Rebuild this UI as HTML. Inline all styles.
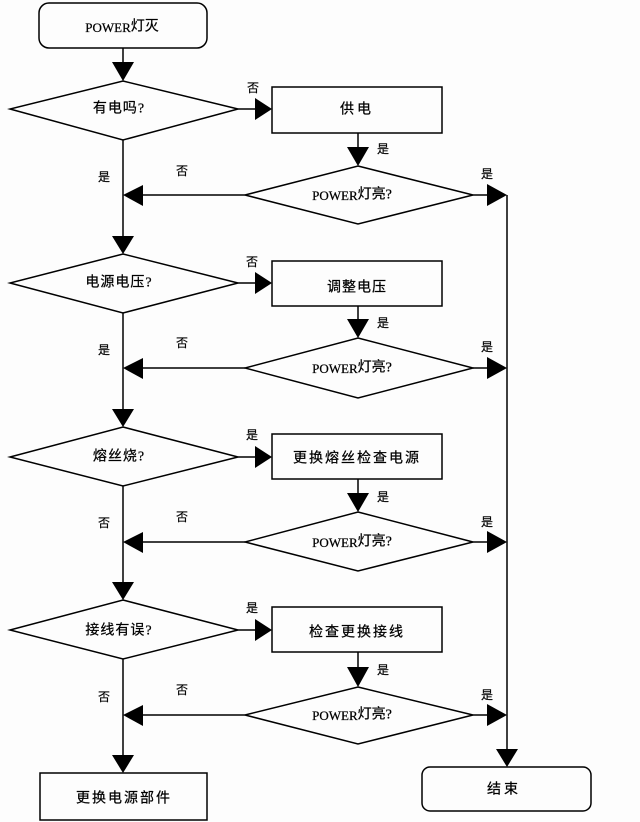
<!DOCTYPE html>
<html><head><meta charset="utf-8"><style>
html,body{margin:0;padding:0;background:#fff;}
svg{display:block;}
text{font-family:"Liberation Serif","Noto Sans CJK SC",serif;fill:#000;}
.c{font-family:"Liberation Serif","Noto Sans CJK SC",sans-serif;font-size:14px;stroke:#000;stroke-width:0.25;}
.l{font-family:"Noto Sans CJK SC",sans-serif;font-size:12px;stroke:#000;stroke-width:0.2;}
</style></head><body>
<svg width="640" height="822" viewBox="0 0 640 822" xmlns="http://www.w3.org/2000/svg">
<rect width="640" height="822" fill="#fdfdfd"/>
<g stroke="#000" stroke-width="1.5" fill="none">
  <rect x="39" y="3" width="168" height="45" rx="10" ry="10"/>
  <line x1="123" y1="48" x2="123" y2="66"/>
  <polygon points="123,81 238,109 123,140 10,109"/>
  <line x1="238" y1="109" x2="258" y2="109"/>
  <rect x="272" y="87" width="170" height="46"/>
  <line x1="358" y1="133" x2="358" y2="150"/>
  <polygon points="358,166 473,195 358,224 245,195"/>
  <line x1="473" y1="195" x2="490" y2="195"/>
  <line x1="245" y1="195" x2="140" y2="195"/>
  <line x1="123" y1="140" x2="123" y2="240"/>
  <polygon points="123,254 238,283 123,313 10,283"/>
  <line x1="238" y1="283" x2="258" y2="283"/>
  <rect x="272" y="261" width="170" height="45"/>
  <line x1="358" y1="306" x2="358" y2="322"/>
  <polygon points="358,338 473,368 358,398 245,368"/>
  <line x1="473" y1="368" x2="490" y2="368"/>
  <line x1="245" y1="368" x2="140" y2="368"/>
  <line x1="123" y1="313" x2="123" y2="412"/>
  <polygon points="123,427 238,457 123,486 10,457"/>
  <line x1="238" y1="457" x2="258" y2="457"/>
  <rect x="272" y="434" width="170" height="45"/>
  <line x1="358" y1="479" x2="358" y2="496"/>
  <polygon points="358,512 473,542 358,571 245,542"/>
  <line x1="473" y1="542" x2="490" y2="542"/>
  <line x1="245" y1="542" x2="140" y2="542"/>
  <line x1="123" y1="486" x2="123" y2="585"/>
  <polygon points="123,600 238,630 123,659 10,630"/>
  <line x1="238" y1="630" x2="258" y2="630"/>
  <rect x="272" y="607" width="170" height="45"/>
  <line x1="358" y1="652" x2="358" y2="670"/>
  <polygon points="358,687 473,715 358,744 245,715"/>
  <line x1="473" y1="715" x2="490" y2="715"/>
  <line x1="245" y1="715" x2="140" y2="715"/>
  <line x1="123" y1="659" x2="123" y2="758"/>
  <rect x="40" y="773" width="167" height="47"/>
  <line x1="507" y1="195" x2="507" y2="752"/>
  <rect x="422" y="767" width="169" height="44" rx="8" ry="8"/>
</g>
<g fill="#000">
  <polygon points="112,62 134,62 123,81"/>
  <polygon points="112,236 134,236 123,254"/>
  <polygon points="112,409 134,409 123,427"/>
  <polygon points="112,582 134,582 123,600"/>
  <polygon points="112,755 134,755 123,773"/>
  <polygon points="255,98 255,120 272,109"/>
  <polygon points="255,272 255,294 272,283"/>
  <polygon points="255,446 255,468 272,457"/>
  <polygon points="255,619 255,641 272,630"/>
  <polygon points="347,147 369,147 358,166"/>
  <polygon points="347,319 369,319 358,338"/>
  <polygon points="347,493 369,493 358,512"/>
  <polygon points="347,667 369,667 358,687"/>
  <polygon points="487,184 487,206 507,195"/>
  <polygon points="487,357 487,379 507,368"/>
  <polygon points="487,531 487,553 507,542"/>
  <polygon points="487,704 487,726 507,715"/>
  <polygon points="143,185 143,206 123,195"/>
  <polygon points="143,358 143,379 123,368"/>
  <polygon points="143,532 143,553 123,542"/>
  <polygon points="143,705 143,726 123,715"/>
  <polygon points="496,749 518,749 507,767"/>
</g>
<g class="c" text-anchor="middle" dominant-baseline="central">
  <text x="122" y="27"><tspan font-size="13">POWER</tspan>灯灭</text>
  <text x="119" y="109" letter-spacing="1">有电吗?</text>
  <text x="357" y="110" letter-spacing="3">供电</text>
  <text x="352" y="195"><tspan font-size="13">POWER</tspan>灯亮?</text>
  <text x="119" y="283" letter-spacing="1">电源电压?</text>
  <text x="357" y="288" letter-spacing="1">调整电压</text>
  <text x="352" y="368"><tspan font-size="13">POWER</tspan>灯亮?</text>
  <text x="119" y="457" letter-spacing="1">熔丝烧?</text>
  <text x="357" y="459" letter-spacing="2">更换熔丝检查电源</text>
  <text x="352" y="542"><tspan font-size="13">POWER</tspan>灯亮?</text>
  <text x="119" y="631" letter-spacing="1">接线有误?</text>
  <text x="357" y="633" letter-spacing="2">检查更换接线</text>
  <text x="352" y="715"><tspan font-size="13">POWER</tspan>灯亮?</text>
  <text x="124" y="799" letter-spacing="2">更换电源部件</text>
  <text x="504" y="790" letter-spacing="3">结束</text>
</g>
<g class="l" text-anchor="middle" dominant-baseline="central">
  <text x="253" y="88">否</text>
  <text x="252" y="262">否</text>
  <text x="252" y="435">是</text>
  <text x="252" y="608">是</text>
  <text x="383" y="149">是</text>
  <text x="383" y="323">是</text>
  <text x="383" y="497">是</text>
  <text x="383" y="670">是</text>
  <text x="487" y="174">是</text>
  <text x="487" y="347">是</text>
  <text x="487" y="522">是</text>
  <text x="487" y="695">是</text>
  <text x="182" y="171">否</text>
  <text x="182" y="343">否</text>
  <text x="182" y="517">否</text>
  <text x="182" y="690">否</text>
  <text x="104" y="177">是</text>
  <text x="104" y="350">是</text>
  <text x="104" y="523">否</text>
  <text x="104" y="697">否</text>
</g>
</svg>
</body></html>
